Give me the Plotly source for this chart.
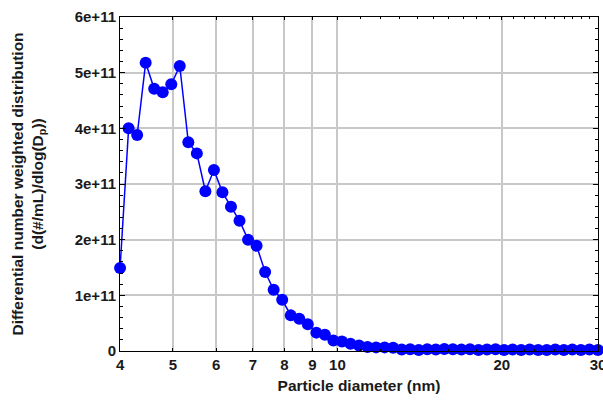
import plotly.graph_objects as go

diameter_nm = [4.000, 4.147, 4.299, 4.456, 4.619, 4.788, 4.964, 5.145, 5.334, 5.529,
               5.732, 5.942, 6.159, 6.385, 6.619, 6.862, 7.113, 7.374, 7.644, 7.924,
               8.214, 8.515, 8.827, 9.150, 9.486, 9.833, 10.193, 10.567, 10.954, 11.356,
               11.772, 12.203, 12.649, 13.113, 13.593, 14.091, 14.607, 15.142, 15.697, 16.272,
               16.868, 17.486, 18.127, 18.791, 19.479, 20.192, 20.932, 21.699, 22.494, 23.318,
               24.172, 25.057, 25.975, 26.927, 27.913, 28.936, 29.996]

dN_dlogDp_e11 = [1.49, 4.00, 3.88, 5.18, 4.71, 4.65, 4.79, 5.12, 3.75, 3.55,
                 2.87, 3.25, 2.85, 2.59, 2.34, 2.00, 1.89, 1.42, 1.10, 0.92,
                 0.64, 0.58, 0.48, 0.33, 0.29, 0.19, 0.17, 0.13, 0.10, 0.07,
                 0.065, 0.065, 0.06, 0.025, 0.03, 0.02, 0.03, 0.025, 0.035, 0.03,
                 0.025, 0.03, 0.02, 0.025, 0.03, 0.02, 0.025, 0.02, 0.025, 0.02,
                 0.02, 0.025, 0.02, 0.025, 0.02, 0.025, 0.02]

x_tick_vals = [4, 5, 6, 7, 8, 9, 10, 20, 30]
x_tick_text = ["4", "5", "6", "7", "8", "9", "10", "20", "30"]
x_minor_vals = [11, 12, 13, 14, 15, 16, 17, 18, 19, 21, 22, 23, 24, 25, 26, 27, 28, 29]
y_tick_vals = [0, 1e11, 2e11, 3e11, 4e11, 5e11, 6e11]
y_tick_text = ["0", "1e+11", "2e+11", "3e+11", "4e+11", "5e+11", "6e+11"]

y_values = [v * 1e11 for v in dN_dlogDp_e11]

FONT = "Liberation Sans, Arial, sans-serif"
BLUE = "#0000ff"

fig = go.Figure()
fig.add_trace(go.Scatter(
    x=diameter_nm, y=y_values, mode="lines+markers",
    line=dict(color=BLUE, width=1.5),
    marker=dict(color=BLUE, size=12, symbol="circle"),
    showlegend=False, cliponaxis=False,
))

fig.update_layout(
    width=603, height=402,
    margin=dict(l=120, r=5, t=17, b=51, autoexpand=False),
    paper_bgcolor="white", plot_bgcolor="white",
    font=dict(family=FONT, size=15, color="#1a1a1a"),
    xaxis=dict(
        type="log", range=[0.60195, 1.47716],
        automargin=False,
        tickmode="array", tickvals=x_tick_vals, ticktext=x_tick_text,
        tickfont=dict(family=FONT, size=15, color="#1a1a1a", weight="bold"),
        ticklabeloverflow="allow",
        showgrid=True, gridcolor="#c8c8c8", gridwidth=1.5,
        showline=True, linecolor="black", linewidth=1, mirror="ticks",
        ticks="inside", ticklen=3, tickcolor="black",
        minor=dict(tickmode="array", tickvals=x_minor_vals, ticks="inside",
                   ticklen=2, tickcolor="black", showgrid=False),
        zeroline=False,
        title=dict(text="Particle diameter (nm)",
                   font=dict(family=FONT, size=15.5, color="#1a1a1a", weight="bold"),
                   standoff=8),
    ),
    yaxis=dict(
        range=[0, 6e11],
        automargin=False,
        tickmode="array", tickvals=y_tick_vals, ticktext=y_tick_text,
        tickfont=dict(family=FONT, size=15, color="#1a1a1a", weight="bold"),
        showgrid=True, gridcolor="#c8c8c8", gridwidth=1.5,
        showline=True, linecolor="black", linewidth=1, mirror="ticks",
        ticks="inside", ticklen=5, tickcolor="black",
        minor=dict(dtick=2e10, ticks="inside", ticklen=3, tickcolor="black", showgrid=False),
        zeroline=False,
        title=dict(text="Differential number weighted distribution<br>(d(#/mL)/dlog(D<sub>p</sub>))",
                   font=dict(family=FONT, size=15.5, color="#1a1a1a", weight="bold"),
                   standoff=27),
    ),
)

fig.write_html("out.html")
